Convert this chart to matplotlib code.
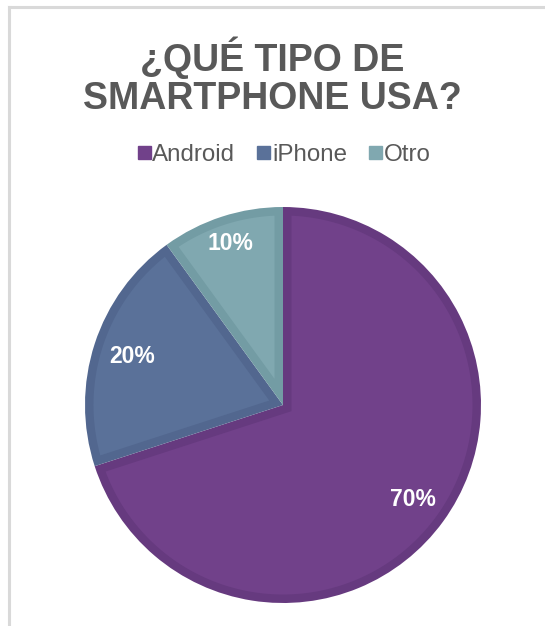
import numpy as np
import matplotlib
matplotlib.use("Agg")
import matplotlib.pyplot as plt
from matplotlib.patches import Patch, Polygon
from matplotlib.lines import Line2D

labels = ["Android", "iPhone", "Otro"]
values = [70, 20, 10]
fills = ["#71418a", "#5a7199", "#80a8b0"]
edges = ["#663a7f", "#52678f", "#739ca4"]
label_dist = [0.81, 0.80, 0.86]

W, H = 545, 626
fig = plt.figure(figsize=(W / 100, H / 100), dpi=100)

# chart frame (clipped on right and bottom like the reference)
fig.add_artist(Line2D([9 / W, 1.0], [1 - 7 / H, 1 - 7 / H], color="#d9d9d9", lw=2.2))
fig.add_artist(Line2D([9 / W, 9 / W], [0.0, 1 - 7 / H], color="#d9d9d9", lw=2.2))

fig.text(0.5, 1 - 77 / H, "¿QUÉ TIPO DE\nSMARTPHONE USA?", ha="center", va="center",
         fontsize=27, fontweight="bold", color="#595959", family="Liberation Sans",
         linespacing=1.07)

r = 198
cx, cy = 283, 405
ax = fig.add_axes([(cx - r) / W, (H - cy - r) / H, 2 * r / W, 2 * r / H])
wedges, _ = ax.pie(values, colors=edges, startangle=90, counterclock=False,
                   radius=1, wedgeprops=dict(linewidth=0))


def inset_wedge(t1, t2, d):
    # lighter inner face of a wedge, offset d from every side
    half = np.deg2rad(t2 - t1) / 2
    bis = np.deg2rad(t1 + t2) / 2
    apex = d / np.sin(half) * np.array([np.cos(bis), np.sin(bis)])
    rr = 1 - d
    da = np.arcsin(d / rr)
    phi = np.linspace(np.deg2rad(t1) + da, np.deg2rad(t2) - da, 200)
    arc = np.column_stack([rr * np.cos(phi), rr * np.sin(phi)])
    return np.vstack([apex, arc])


bevel = 8.5 / r
for w, c in zip(wedges, fills):
    ax.add_patch(Polygon(inset_wedge(w.theta1, w.theta2, bevel), closed=True,
                         facecolor=c, edgecolor="none"))

for w, v, d in zip(wedges, values, label_dist):
    ang = np.deg2rad((w.theta1 + w.theta2) / 2)
    ax.text(d * np.cos(ang), d * np.sin(ang), f"{v}%", ha="center", va="center",
            color="white", fontsize=16.5, fontweight="bold", family="Liberation Sans")
ax.set_xlim(-1, 1)
ax.set_ylim(-1, 1)
ax.axis("off")

handles = [Patch(facecolor=c, edgecolor=c) for c in fills]
fig.legend(handles, labels, loc="center", bbox_to_anchor=(284 / W, 1 - 155 / H), ncol=3,
           frameon=False, handlelength=0.55, handleheight=0.5, handletextpad=0.06,
           columnspacing=0.9, prop=dict(family="Liberation Sans", size=17.4),
           labelcolor="#595959")

fig.savefig("out.png", dpi=100, facecolor="white")
